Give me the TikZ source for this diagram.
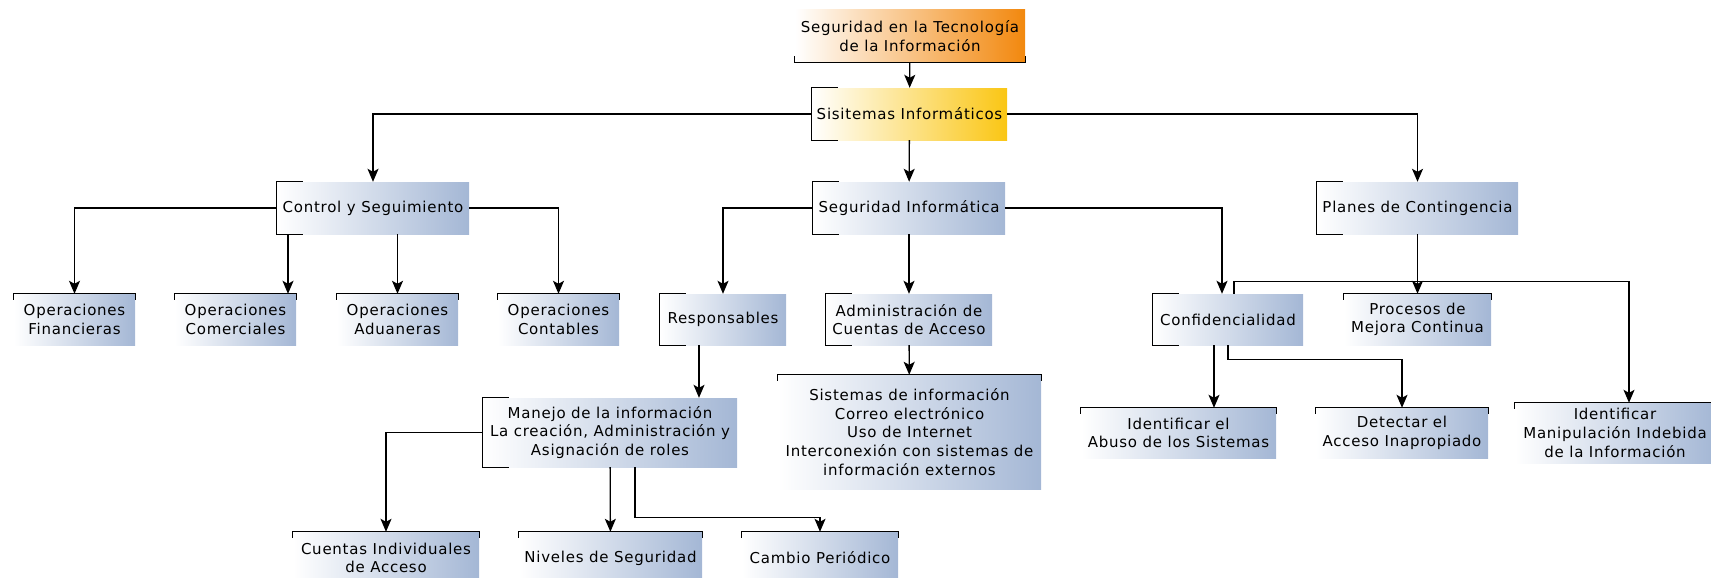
\documentclass[tikz,border=0pt]{standalone}
\usepackage{fontspec}
\setmainfont[LetterSpace=5]{DejaVu Sans}
\usepackage{tikz}
\usetikzlibrary{arrows.meta}

\definecolor{boxblue}{RGB}{164,183,213}
\definecolor{boxorange}{RGB}{242,136,14}
\definecolor{boxgold}{RGB}{250,198,20}

\newcommand{\sidebrack}[1]{\draw[brack] ([xshift=26pt]#1.north west) -- (#1.north west) -- (#1.south west) -- ([xshift=26pt]#1.south west);}
\newcommand{\topbrack}[1]{\draw[brack] ([yshift=-6pt]#1.north west) -- (#1.north west) -- (#1.north east) -- ([yshift=-6pt]#1.north east);}
\newcommand{\botbrack}[1]{\draw[brack] ([yshift=6pt]#1.south west) -- (#1.south west) -- (#1.south east) -- ([yshift=6pt]#1.south east);}

\begin{document}
\begin{tikzpicture}[x=1pt, y=-1pt,
	box/.style={left color=white, right color=boxblue, inner sep=0pt, align=center, font=\fontsize{15}{18.6}\selectfont},
	brack/.style={line width=1.3pt},
	arr/.style={line width=1.3pt, -{Stealth[length=13pt, width=11pt, inset=3pt]}}]
	\useasboundingbox (0,0) rectangle (1711,578);
	% levels 1 and 2
	\node[box, right color=boxorange, minimum width=230, minimum height=52] (tec) at (910,36) {Seguridad en la Tecnología\\de la Información};
	\node[box, right color=boxgold, minimum width=195, minimum height=52] (sis) at (909.5,114) {Sisitemas Informáticos};
	% level 3
	\node[box, minimum width=192, minimum height=52] (ctrl) at (373,208) {Control y Seguimiento};
	\node[box, minimum width=192, minimum height=52] (segi) at (909,208) {Seguridad Informática};
	\node[box, minimum width=201, minimum height=52] (plan) at (1417.5,208) {Planes de Contingencia};
	% level 4
	\node[box, minimum width=121, minimum height=51] (opfin) at (74.5,319.5) {Operaciones\\Financieras};
	\node[box, minimum width=121, minimum height=51] (opcom) at (235.5,319.5) {Operaciones\\Comerciales};
	\node[box, minimum width=121, minimum height=51] (opadu) at (397.5,319.5) {Operaciones\\Aduaneras};
	\node[box, minimum width=121, minimum height=51] (opcon) at (558.5,319.5) {Operaciones\\Contables};
	\node[box, minimum width=126, minimum height=51] (resp) at (723,319.5) {Responsables};
	\node[box, minimum width=166, minimum height=51] (admin) at (909,319.5) {Administración de\\Cuentas de Acceso};
	\node[box, minimum width=150, minimum height=51] (conf) at (1228,319.5) {Confidencialidad};
	\node[box, minimum width=147, minimum height=51] (proc) at (1417.5,319.5) {Procesos de\\Mejora Continua};
	% level 5
	\node[box, minimum width=254, minimum height=69] (manejo) at (610,432.5) {Manejo de la información\\La creación, Administración y\\Asignación de roles};
	\node[box, minimum width=263, minimum height=114] (sistinfo) at (909.5,432) {Sistemas de información\\Correo electrónico\\Uso de Internet\\Interconexión con sistemas de\\información externos};
	\node[box, minimum width=195, minimum height=50] (abuso) at (1178.5,433) {Identificar el\\Abuso de los Sistemas};
	\node[box, minimum width=172, minimum height=50] (detect) at (1402,433) {Detectar el\\Acceso Inapropiado};
	\node[box, minimum width=200, minimum height=60] (manip) at (1615,433) {Identificar\\Manipulación Indebida\\de la Información};
	% level 6
	\node[box, minimum width=186, minimum height=52] (cuentas) at (386,558) {Cuentas Individuales\\de Acceso};
	\node[box, minimum width=183, minimum height=52] (niveles) at (610.5,558) {Niveles de Seguridad};
	\node[box, minimum width=156, minimum height=52] (cambio) at (820,558) {Cambio Periódico};
	% brackets
	\botbrack{tec}
	\foreach \n in {sis,ctrl,segi,plan,resp,admin,conf,manejo} {\sidebrack{\n}}
	\foreach \n in {opfin,opcom,opadu,opcon,proc,sistinfo,abuso,detect,manip,cuentas,niveles,cambio} {\topbrack{\n}}
	% connectors
	\draw[arr] (tec) -- (sis);
	\draw[arr] (sis.west) -| (ctrl.north);
	\draw[arr] (sis.east) -| (plan.north);
	\draw[arr] (sis) -- (segi);
	\draw[arr] (ctrl.west) -| (opfin.north);
	\draw[arr] (ctrl.east) -| (opcon.north);
	\draw[arr] ([xshift=-85pt]ctrl.south) -- ([xshift=-85pt]ctrl.south |- opcom.north);
	\draw[arr] (opadu.north |- ctrl.south) -- (opadu.north);
	\draw[arr] (segi.west) -| (resp.north);
	\draw[arr] (segi) -- (admin);
	\draw[arr] (segi.east) -| ([xshift=-6pt]conf.north);
	\draw[arr] (plan) -- (proc);
	\draw[arr] ([xshift=6pt]conf.north) -- ++(0,-12) -| ([xshift=14pt]manip.north);
	\draw[arr] ([xshift=-14pt]conf.south) -- ([xshift=-14pt]conf.south |- abuso.north);
	\draw[arr] (conf.south) -- ++(0,14) -| (detect.north);
	\draw[arr] ([xshift=-24pt]resp.south) -- ([xshift=-24pt]resp.south |- manejo.north);
	\draw[arr] (admin) -- (sistinfo);
	\draw[arr] (manejo.west) -| (cuentas.north);
	\draw[arr] (manejo) -- (niveles);
	\draw[arr] ([xshift=25pt]manejo.south) -- ++(0,50) -| (cambio.north);
\end{tikzpicture}
\end{document}
